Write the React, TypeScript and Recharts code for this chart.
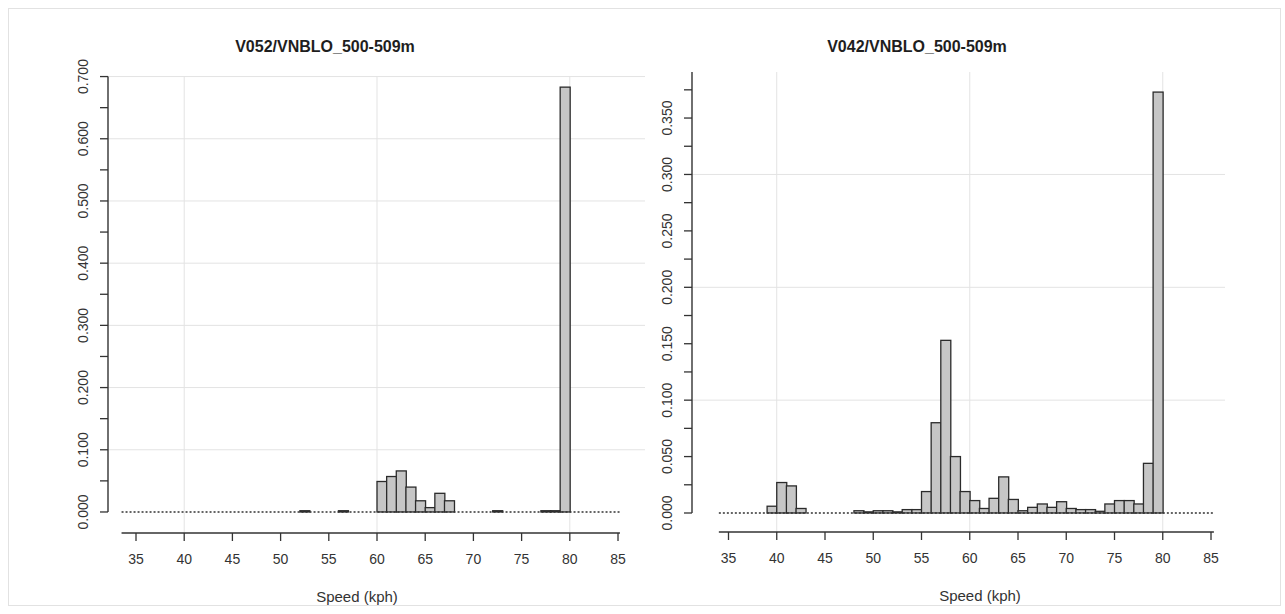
import { ComposedChart, Bar, XAxis, YAxis, CartesianGrid, ReferenceLine } from 'recharts'

// ─── Datos ────────────────────────────────────────────────────────────────────

// inicio de cada intervalo de 1 kph
const BINS = [
  34, 35, 36, 37, 38, 39, 40, 41, 42, 43, 44, 45, 46, 47, 48, 49, 50,
  51, 52, 53, 54, 55, 56, 57, 58, 59, 60, 61, 62, 63, 64, 65, 66, 67,
  68, 69, 70, 71, 72, 73, 74, 75, 76, 77, 78, 79, 80, 81, 82, 83, 84,
]

// densidad por intervalo, V052
const V052 = [
  0, 0, 0, 0, 0, 0, 0, 0, 0, 0, 0, 0, 0, 0, 0, 0, 0,
  0, 0.002, 0, 0, 0, 0.002, 0, 0, 0, 0.049, 0.057, 0.066, 0.040, 0.018, 0.007, 0.030, 0.018,
  0, 0, 0, 0, 0.002, 0, 0, 0, 0, 0.002, 0.002, 0.683, 0, 0, 0, 0, 0,
]

// densidad por intervalo, V042
const V042 = [
  0, 0, 0, 0, 0, 0.006, 0.027, 0.024, 0.004, 0, 0, 0, 0, 0, 0.002, 0.001, 0.002,
  0.002, 0.001, 0.003, 0.003, 0.019, 0.080, 0.153, 0.050, 0.019, 0.011, 0.004, 0.013, 0.032, 0.012, 0.002, 0.005, 0.008,
  0.005, 0.010, 0.004, 0.003, 0.003, 0.0015, 0.008, 0.011, 0.011, 0.008, 0.044, 0.373, 0, 0, 0, 0, 0,
]

const X_TICKS = [35, 40, 45, 50, 55, 60, 65, 70, 75, 80, 85]
const X_GRID  = [40, 60, 80]

const Y_LABELS_V052 = [0, 0.1, 0.2, 0.3, 0.4, 0.5, 0.6, 0.7]
const Y_LABELS_V042 = [0, 0.05, 0.1, 0.15, 0.2, 0.25, 0.3, 0.35]
const Y_GRID_V052   = [0.1, 0.2, 0.3, 0.4, 0.5, 0.6, 0.7]
const Y_GRID_V042   = [0.1, 0.2, 0.3]

// marcas menores cada 0.025
const minorTicks = (max: number) =>
  Array.from({ length: Math.round(max / 0.025) + 1 }, (_, i) => +(i * 0.025).toFixed(3))

// ─── Estilo ───────────────────────────────────────────────────────────────────

const FONT = '"Liberation Sans", Arial, sans-serif'
const INK  = '#333333'

// ─── Ticks ────────────────────────────────────────────────────────────────────

function XTick({ x, y, payload }: any) {
  return (
    <text x={x} y={y + 16} textAnchor="middle" dominantBaseline="central"
      fontFamily={FONT} fontSize={14} fill={INK}>
      {payload.value}
    </text>
  )
}

function makeYTick(labels: number[], dx: number) {
  return function YTick({ x, y, payload }: any) {
    const v = payload.value as number
    if (!labels.some(l => Math.abs(l - v) < 1e-6)) return <g />
    const cx = x - dx
    return (
      <text x={cx} y={y} transform={`rotate(-90 ${cx} ${y})`} textAnchor="middle"
        dominantBaseline="central" fontFamily={FONT} fontSize={14} fill={INK}>
        {v.toFixed(3)}
      </text>
    )
  }
}

function HistBar(p: any) {
  if (!p.height || p.height <= 0) return <g />
  return (
    <rect x={p.x} y={p.y} width={p.width} height={p.height}
      fill="#c6c6c6" stroke="#2b2b2b" strokeWidth={1.3} />
  )
}

// ─── Panel ────────────────────────────────────────────────────────────────────

type Panel = {
  title: string
  values: number[]
  left: number
  margin: { top: number; right: number; bottom: number; left: number }
  xDomain: [number, number]
  yDomain: [number, number]
  yTop: number
  yTicks: number[]
  yLabels: number[]
  yGrid: number[]
  axisFrom: number
  axisTo: number
  titleX: number
  labelX: number
  yLabelDx: number
}

function Histogram({ p }: { p: Panel }) {
  const data = BINS.map((b, i) => ({ mid: b + 0.5, v: p.values[i] }))
  const W = 660
  const H = 614
  return (
    <div style={{ position: 'absolute', left: p.left, top: 0, width: W, height: H }}>
      <div style={{
        position: 'absolute', left: p.titleX - p.left, top: 37, transform: 'translateX(-50%)',
        whiteSpace: 'nowrap', fontFamily: FONT, fontWeight: 700, fontSize: 16, lineHeight: '20px', color: '#1e1e1e',
      }}>
        {p.title}
      </div>
      <ComposedChart width={W} height={H} data={data} margin={p.margin} barCategoryGap={0} barGap={0}>
        <CartesianGrid stroke="#e3e3e3" strokeWidth={1}
          horizontalValues={p.yGrid} verticalValues={X_GRID} />
        <XAxis
          dataKey="mid"
          type="number"
          domain={p.xDomain}
          ticks={X_TICKS}
          axisLine={false}
          tickLine={{ stroke: INK, strokeWidth: 1.3 }}
          tickSize={8}
          tick={<XTick />}
          height={70}
          allowDataOverflow
          label={{
            content: (props: any) => {
              const vb = props.viewBox
              return (
                <text x={p.labelX - p.left} y={vb.y + 63} textAnchor="middle" dominantBaseline="central"
                  fontFamily={FONT} fontSize={15} fill={INK}>
                  Speed (kph)
                </text>
              )
            },
          }}
        />
        <YAxis
          type="number"
          domain={p.yDomain}
          ticks={p.yTicks}
          axisLine={false}
          tickLine={{ stroke: INK, strokeWidth: 1.3 }}
          tickSize={8}
          tick={makeYTick(p.yLabels, 15)}
          width={60}
          allowDataOverflow
        />
        <Bar dataKey="v" shape={HistBar} isAnimationActive={false} />
        {/* línea de base punteada */}
        <ReferenceLine segment={[{ x: p.axisFrom, y: 0 }, { x: p.axisTo, y: 0 }]}
          stroke={INK} strokeWidth={1.3} strokeDasharray="2 2" ifOverflow="visible" />
        {/* ejes */}
        <ReferenceLine segment={[{ x: p.axisFrom, y: p.yDomain[0] }, { x: p.axisTo, y: p.yDomain[0] }]}
          stroke={INK} strokeWidth={1.4} ifOverflow="visible" />
        <ReferenceLine segment={[{ x: p.xDomain[0], y: 0 }, { x: p.xDomain[0], y: p.yTop }]}
          stroke={INK} strokeWidth={1.4} ifOverflow="visible" />
      </ComposedChart>
    </div>
  )
}

const PANELS: Panel[] = [
  {
    title: 'V052/VNBLO_500-509m',
    values: V052,
    left: 0,
    margin: { top: 76, right: 15, bottom: 11, left: 48 },
    xDomain: [32.095, 87.8],
    yDomain: [-0.0338, 0.7009],
    yTop: 0.7,
    yTicks: minorTicks(0.7),
    yLabels: Y_LABELS_V052,
    yGrid: Y_GRID_V052,
    axisFrom: 33.5,
    axisTo: 85.2,
    titleX: 325,
    labelX: 357,
    yLabelDx: 15,
  },
  {
    title: 'V042/VNBLO_500-509m',
    values: V042,
    left: 600,
    margin: { top: 72, right: 35, bottom: 12, left: 32 },
    xDomain: [31.218, 86.45],
    yDomain: [-0.01684, 0.3908],
    yTop: 0.3908,
    yTicks: minorTicks(0.375),
    yLabels: Y_LABELS_V042,
    yGrid: Y_GRID_V042,
    axisFrom: 34.0,
    axisTo: 85.3,
    titleX: 917,
    labelX: 980,
    yLabelDx: 18,
  },
]

export default function App() {
  return (
    <div style={{ position: 'absolute', left: 0, top: 0, width: 1285, height: 614, background: '#fff', overflow: 'hidden' }}>
      <div style={{ position: 'absolute', left: 8, top: 8, width: 1271, height: 596, border: '1px solid #e2e2e2' }} />
      {PANELS.map(p => <Histogram key={p.title} p={p} />)}
    </div>
  )
}
